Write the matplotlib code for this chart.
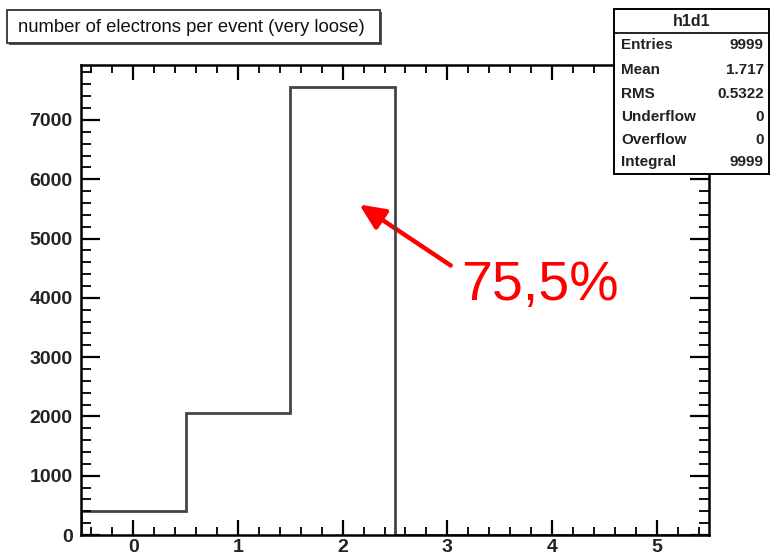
import numpy as np
import matplotlib
matplotlib.use("Agg")
import matplotlib.pyplot as plt
from matplotlib.patches import Rectangle, FancyArrowPatch
from matplotlib.ticker import MultipleLocator

plt.rcParams["font.family"] = ["Liberation Sans", "DejaVu Sans"]

# histogram h1d1: electrons per event, unit bins centred on integers
bin_edges = [-0.5, 0.5, 1.5, 2.5, 3.5, 4.5, 5.5]
counts = [400, 2050, 7549, 0, 0, 0]
title = "number of electrons per event (very loose)"
stat_names = ["Entries", "Mean", "RMS", "Underflow", "Overflow", "Integral"]
stat_values = ["9999", "1.717", "0.5322", "0", "0", "9999"]
frac_label = "75,5%"

W, H = 771, 556
fig = plt.figure(figsize=(W / 100, H / 100), dpi=100)
ax = fig.add_axes([81 / W, 1 - 535 / H, (709 - 81) / W, (535 - 65) / H])

ax.set_xlim(-0.5, 5.5)
ax.set_ylim(0, max(counts) * 1.05)

ax.xaxis.set_major_locator(MultipleLocator(1))
ax.xaxis.set_minor_locator(MultipleLocator(0.2))
ax.yaxis.set_major_locator(MultipleLocator(1000))
ax.yaxis.set_minor_locator(MultipleLocator(200))
ax.tick_params(which="both", direction="in", top=True, right=True, color="black")
ax.tick_params(axis="x", which="major", length=11, width=1.6, pad=3)
ax.tick_params(axis="x", which="minor", length=5.5, width=1.3)
ax.tick_params(axis="y", which="major", length=13.5, width=1.6, pad=6)
ax.tick_params(axis="y", which="minor", length=7, width=1.3)
for lab in ax.get_xticklabels() + ax.get_yticklabels():
    lab.set_fontsize(14)
    lab.set_fontweight("bold")
    lab.set_color("#222222")
for s in ax.spines.values():
    s.set_linewidth(1.8)

# red annotation (under the histogram line)
fig.add_artist(FancyArrowPatch((453 / W, 1 - 267 / H), (357 / W, 1 - 203 / H),
                               transform=fig.transFigure,
                               arrowstyle="-|>,head_length=1.1,head_width=0.5",
                               color="red", lw=3.2, mutation_scale=14, zorder=1))
fig.text(461 / W, 1 - 300 / H, frac_label, fontsize=40, color="red", ha="left", va="baseline", zorder=8)

ax.set_zorder(2)
ax.patch.set_alpha(0)
ax.stairs(counts, bin_edges, color="#444444", lw=2.0, baseline=0)

# title pave with shadow
tx0, ty0, tx1, ty1 = 7, 10, 380, 43
fig.patches.append(Rectangle((tx0 / W + 2 / W, 1 - ty1 / H - 2 / H), (tx1 - tx0) / W, (ty1 - ty0) / H,
                             transform=fig.transFigure, fc="#555555", ec="none", zorder=5))
fig.patches.append(Rectangle((tx0 / W, 1 - ty1 / H), (tx1 - tx0) / W, (ty1 - ty0) / H,
                             transform=fig.transFigure, fc="white", ec="#333333", lw=1.3, zorder=6))
fig.text((tx0 + 11) / W, 1 - 27 / H, title, fontsize=13.3, va="center", ha="left", color="#111111", zorder=7)

# stats box
sx0, sy0, sx1, sy1 = 614, 9, 769, 174
fig.add_artist(Rectangle((sx0 / W, 1 - sy1 / H), (sx1 - sx0) / W, (sy1 - sy0) / H,
                         transform=fig.transFigure, fc="white", ec="black", lw=1.4, zorder=6))
fig.add_artist(plt.Line2D([sx0 / W, sx1 / W], [1 - 33 / H, 1 - 33 / H], color="black", lw=1.2, zorder=7))
fig.text((sx0 + sx1) / 2 / W, 1 - 21 / H, "h1d1", fontsize=11.5, fontweight="bold", ha="center", va="center",
         color="#222222", zorder=7)
row_y = [45, 70, 94, 117, 140, 162]
for name, val, yy in zip(stat_names, stat_values, row_y):
    fig.text(621 / W, 1 - yy / H, name, fontsize=11, fontweight="bold", ha="left", va="center",
             color="#222222", zorder=7)
    fig.text(764 / W, 1 - yy / H, val, fontsize=11, fontweight="bold", ha="right", va="center",
             color="#222222", zorder=7)

fig.savefig("out.png", dpi=100)
